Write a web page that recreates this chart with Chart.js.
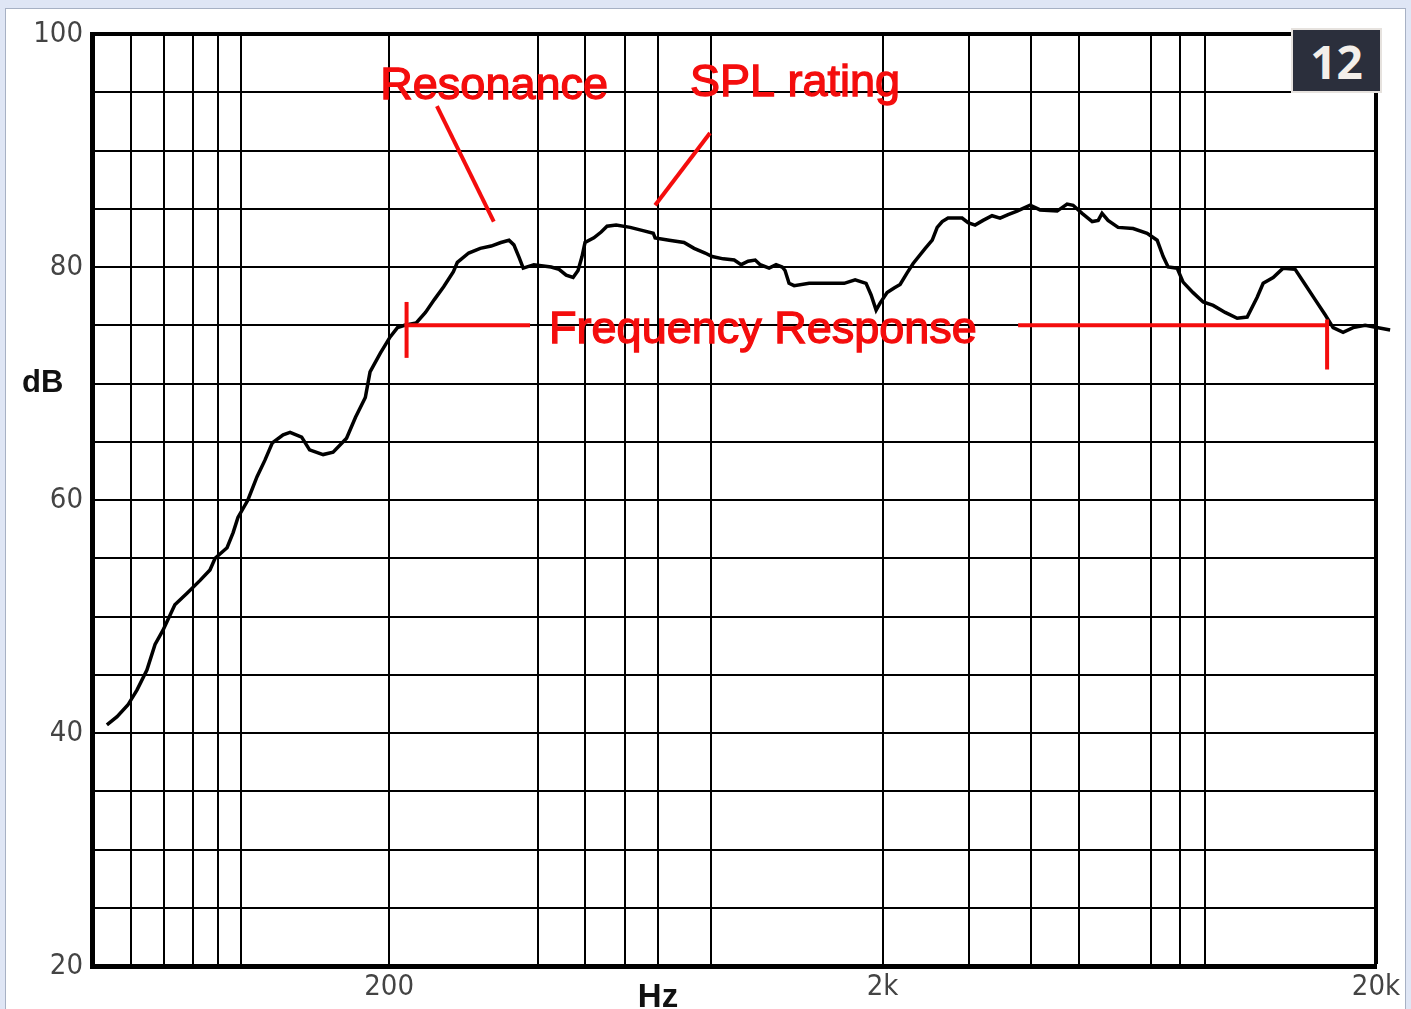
<!DOCTYPE html>
<html>
<head>
<meta charset="utf-8">
<title>Frequency response</title>
<script src="https://cdn.jsdelivr.net/npm/chart.js@4.4.1/dist/chart.umd.min.js"></script>
<style>
  html, body { margin: 0; padding: 0; }
  body { width: 1411px; height: 1009px; background: #dfe6f5; position: relative; overflow: hidden; }
  #panel { position: absolute; left: 5px; top: 8px; width: 1401px; height: 1010px; background: #fff;
           border: 1px solid #a7b1c4; box-sizing: border-box; }
  #c { position: absolute; left: 0; top: 0; }
  #badge { position: absolute; left: 1291px; top: 28px; width: 91px; height: 65px; background: #2b2f3c;
           border: 2px solid #e6e2de; box-sizing: border-box; color: #f3efea;
           font: bold 46px "Open Sans", sans-serif; display: flex; align-items: center; justify-content: center; }
</style>
</head>
<body>
<div id="panel"></div>
<canvas id="c" width="1411" height="1009"></canvas>
<div id="badge">12</div>
<script>
// measured curve (Hz, dB)
var freq = [
  53.6, 56.2, 59.1, 61.7, 64.6, 67.1, 69.6, 73.6, 77.9, 82.8, 86.7, 88.8, 93.9, 96.6, 98.8,
  103.5, 108, 112, 116, 122, 126, 133, 138, 147, 154, 164, 171, 179, 183, 192, 201, 208, 215,
  227, 237, 247, 258, 270, 275, 290, 306, 322, 337, 350, 358, 367, 374, 393,
  426, 442, 457, 472, 483, 492, 499, 520, 538, 553, 577, 616, 657, 686, 692,
  739, 792, 830, 874, 903, 951, 1001, 1034, 1068, 1104, 1130, 1178, 1217, 1252, 1269,
  1293, 1324, 1420, 1537, 1672, 1760, 1852, 1896, 1941, 1977, 2043, 2111,
  2171, 2243, 2307, 2441, 2522, 2581, 2642, 2715, 2899, 2981, 3080, 3197, 3334, 3461,
  3593, 3747, 3982, 4172, 4517, 4732, 4866, 5075, 5320, 5471, 5570, 5728, 6003,
  6439, 6874, 7203, 7409, 7582, 7906, 8130, 8518, 8929, 9355, 9894,
  10465, 10964, 11488, 11813, 12378, 12968, 13715, 14370, 15054, 15774,
  16373, 17153, 17973, 19011, 21362
];
var spl = [
  40.7, 41.4, 42.4, 43.7, 45.4, 47.6, 48.8, 51.0, 52.0, 53.1, 54.0, 55.0, 55.9, 57.2, 58.5,
  60.0, 62.0, 63.4, 64.9, 65.6, 65.8, 65.4, 64.3, 63.9, 64.1, 65.3, 67.1, 68.8, 71.0, 72.6, 74.0, 74.8, 75.0,
  75.2, 76.1, 77.2, 78.3, 79.6, 80.4, 81.2, 81.6, 81.8, 82.1, 82.3, 81.9, 80.8, 79.9, 80.2,
  80.0, 79.8, 79.3, 79.1, 79.7, 80.9, 82.1, 82.5, 83.0, 83.5, 83.6, 83.4, 83.1, 82.9, 82.5,
  82.3, 82.1, 81.6, 81.2, 80.9, 80.7, 80.6, 80.2, 80.5, 80.6, 80.2, 79.9, 80.2, 80.0, 79.7,
  78.6, 78.4, 78.6, 78.6, 78.6, 78.9, 78.6, 77.6, 76.3, 76.9, 77.8, 78.2,
  78.5, 79.5, 80.3, 81.6, 82.3, 83.4, 83.9, 84.2, 84.2, 83.8, 83.6, 84.0, 84.4, 84.2,
  84.5, 84.8, 85.3, 84.9, 84.8, 85.4, 85.3, 84.6, 83.9, 84.0, 84.6, 84.0, 83.4,
  83.3, 82.9, 82.3, 80.9, 80.0, 79.9, 78.7, 77.8, 77.0, 76.7, 76.1,
  75.6, 75.7, 77.4, 78.6, 79.1, 79.9, 79.8, 78.5, 77.2, 75.9,
  74.8, 74.4, 74.8, 75.0, 74.6
];

// axes
var gridFreqs = [50, 60, 70, 80, 90, 100, 200, 400, 500, 600, 700, 900,
                 2000, 3000, 4000, 5000, 7000, 8000, 9000, 20000];
var freqLabelValues = [200, 2000, 20000];
var freqLabelText = ["200", "2k", "20k"];
var dbLabelValues = [20, 40, 60, 80, 100];

// red notes, in Hz / dB
var notes = {
  text: [
    { s: "Resonance", f: 192, db: 94.4 },
    { s: "SPL rating", f: 814, db: 94.7 },
    { s: "Frequency Response", f: 422, db: 73.5 }
  ],
  lines: [
    [250, 93.8, 326, 83.9],
    [894, 91.5, 692, 85.3],
    [215, 75, 386, 75],
    [3765, 75, 15920, 75],
    [217, 77.0, 217, 72.2],
    [15920, 75.5, 15920, 71.2]
  ]
};
var RED = "#f40d0d";

var points = [];
for (var i = 0; i < freq.length; i++) {
  points.push({ x: freq[i], y: spl[i] });
}

var notesPlugin = {
  id: "notes",
  afterDatasetsDraw: function (chart) {
    var ctx = chart.ctx;
    var xs = chart.scales.x;
    var ys = chart.scales.y;
    ctx.save();
    ctx.strokeStyle = RED;
    ctx.lineWidth = 4;
    ctx.lineCap = "butt";
    notes.lines.forEach(function (l) {
      ctx.beginPath();
      ctx.moveTo(xs.getPixelForValue(l[0]), ys.getPixelForValue(l[1]));
      ctx.lineTo(xs.getPixelForValue(l[2]), ys.getPixelForValue(l[3]));
      ctx.stroke();
    });
    ctx.font = '45px "Liberation Sans", Arial, sans-serif';
    ctx.textAlign = "left";
    ctx.textBaseline = "alphabetic";
    ctx.fillStyle = RED;
    ctx.lineWidth = 1.3;
    notes.text.forEach(function (t) {
      var x = xs.getPixelForValue(t.f);
      var y = ys.getPixelForValue(t.db);
      ctx.fillText(t.s, x, y);
      ctx.strokeText(t.s, x, y);
    });
    ctx.restore();
  },
  afterDraw: function (chart) {
    var ctx = chart.ctx;
    var ca = chart.chartArea;
    ctx.save();
    ctx.fillStyle = "#111";
    ctx.font = 'bold 31px "Liberation Sans", Arial, sans-serif';
    ctx.textAlign = "left";
    ctx.textBaseline = "alphabetic";
    ctx.fillText("dB", ca.left - 70, 392);
    ctx.font = 'bold 33px "Liberation Sans", Arial, sans-serif';
    ctx.textAlign = "center";
    ctx.fillText("Hz", 658, ca.bottom + 41);
    ctx.restore();
  }
};

var tickFont = { family: '"Liberation Sans Narrow", "DejaVu Sans Condensed", sans-serif', size: 29 };

new Chart(document.getElementById("c"), {
  type: "line",
  data: {
    datasets: [{
      data: points,
      borderColor: "#000",
      borderWidth: 3.5,
      pointRadius: 0,
      tension: 0,
      clip: false
    }]
  },
  options: {
    responsive: false,
    devicePixelRatio: 1,
    animation: false,
    layout: { padding: { top: 34, right: 35, left: 0, bottom: 0 } },
    plugins: { legend: { display: false }, tooltip: { enabled: false } },
    scales: {
      x: {
        type: "logarithmic",
        min: 50,
        max: 20000,
        afterBuildTicks: function (s) {
          s.ticks = gridFreqs.map(function (v) { return { value: v }; });
        },
        afterFit: function (s) { s.height = 43; },
        grid: {
          color: "#000",
          lineWidth: function (c) { return c.tick && c.tick.value === 20000 ? 4 : 2; },
          drawTicks: false
        },
        border: { display: true, color: "#000", width: 5 },
        ticks: {
          autoSkip: false,
          maxRotation: 0,
          padding: 4,
          color: "#444",
          font: tickFont,
          callback: function (v) {
            var k = freqLabelValues.indexOf(v);
            return k < 0 ? "" : freqLabelText[k];
          }
        }
      },
      y: {
        type: "linear",
        min: 20,
        max: 100,
        afterFit: function (s) { s.width = 92; },
        grid: {
          color: "#000",
          lineWidth: function (c) { return c.tick && c.tick.value === 100 ? 4 : 2; },
          drawTicks: false
        },
        border: { display: true, color: "#000", width: 5 },
        ticks: {
          stepSize: 5,
          padding: 9,
          color: "#444",
          font: tickFont,
          callback: function (v) {
            return dbLabelValues.indexOf(v) < 0 ? "" : String(v);
          }
        }
      }
    }
  },
  plugins: [notesPlugin]
});
</script>
</body>
</html>
